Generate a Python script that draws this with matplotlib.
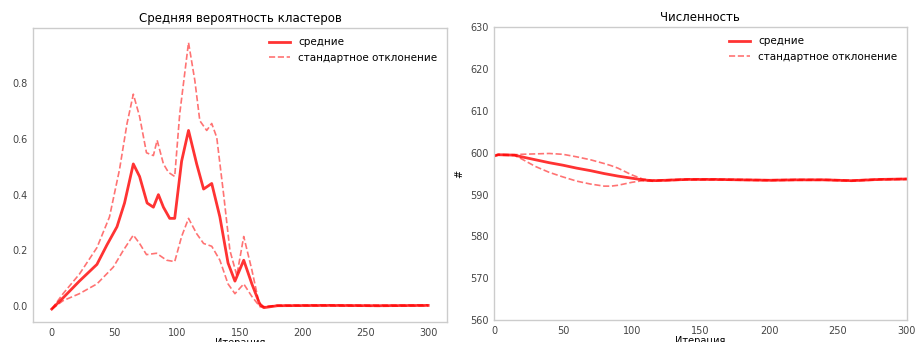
import matplotlib.pyplot as plt

plt.rcParams["font.family"] = ["DejaVu Sans"]

# --- Средняя вероятность кластеров ---
it_mean = [0, 9, 22, 36, 44, 52, 58, 65, 70, 76, 81, 85, 89, 94, 98, 103.5, 109,
           115.5, 121, 127.5, 134, 140.5, 146, 153, 159.5, 166, 169, 180, 220, 260, 300]
prob_mean = [-0.01, 0.03, 0.09, 0.15, 0.22, 0.285, 0.37, 0.51, 0.465, 0.37, 0.355,
             0.40, 0.355, 0.315, 0.315, 0.52, 0.63, 0.51, 0.42, 0.44, 0.32, 0.155,
             0.09, 0.165, 0.08, 0.005, -0.005, 0.002, 0.003, 0.002, 0.003]

it_upper = [0, 9, 22, 36, 46, 54, 60, 65, 70, 75.5, 81, 84, 89, 93, 98, 102, 109, 114,
            118, 123.5, 127.5, 131.5, 137, 142, 147.5, 153, 159.5, 165, 169, 180, 220,
            260, 300]
prob_upper = [-0.01, 0.045, 0.115, 0.21, 0.32, 0.49, 0.655, 0.76, 0.68, 0.55, 0.54,
              0.595, 0.51, 0.48, 0.465, 0.69, 0.945, 0.81, 0.665, 0.63, 0.655, 0.605,
              0.40, 0.20, 0.11, 0.25, 0.13, 0.015, -0.002, 0.004, 0.005, 0.004, 0.005]

it_lower = [0, 9, 22, 36, 49, 57, 65, 70, 75.5, 83.5, 91.5, 98, 103.5, 109, 115.5,
            121, 127.5, 134, 140.5, 146, 153, 159.5, 166, 180, 220, 260, 300]
prob_lower = [-0.01, 0.02, 0.045, 0.08, 0.14, 0.20, 0.255, 0.225, 0.185, 0.19, 0.165,
              0.16, 0.25, 0.315, 0.26, 0.225, 0.215, 0.165, 0.08, 0.045, 0.08, 0.035,
              -0.002, 0.001, 0.001, 0.0, 0.001]

# --- Численность ---
it_count = [0, 3, 15, 20, 30, 40, 50, 60, 70, 80, 85, 90, 100, 108, 115, 125, 140,
            160, 180, 200, 220, 240, 260, 280, 300]
count_mean = [599.2, 599.5, 599.4, 599.0, 598.3, 597.6, 597.0, 596.3, 595.7, 595.0,
              594.7, 594.4, 593.9, 593.5, 593.3, 593.4, 593.6, 593.6, 593.5, 593.4,
              593.5, 593.5, 593.3, 593.6, 593.7]
count_upper = [599.2, 599.6, 599.5, 599.6, 599.7, 599.8, 599.6, 599.0, 598.3, 597.4,
               596.9, 596.3, 594.7, 593.7, 593.4, 593.5, 593.7, 593.7, 593.6, 593.5,
               593.6, 593.6, 593.4, 593.7, 593.8]
count_lower = [599.2, 599.4, 599.3, 598.5, 596.7, 595.3, 594.2, 593.2, 592.5, 592.0,
               592.0, 592.2, 592.9, 593.3, 593.2, 593.3, 593.5, 593.5, 593.4, 593.3,
               593.4, 593.4, 593.2, 593.5, 593.6]

legend_labels = ["средние", "стандартное отклонение"]

fig = plt.figure(figsize=(9.15, 3.42), dpi=100)
ax1 = fig.add_axes([0.036, 0.058, 0.4525, 0.860])
ax2 = fig.add_axes([0.540, 0.064, 0.451, 0.857])


def style_axes(ax):
    for sp in ax.spines.values():
        sp.set_color("#cccccc")
        sp.set_linewidth(1.0)
    ax.tick_params(length=0, labelsize=7, colors="#444444", pad=4)


# левый график
ax1.plot(it_mean, prob_mean, color="red", alpha=0.8, linewidth=2, label=legend_labels[0])
ax1.plot(it_upper, prob_upper, color="red", alpha=0.55, linewidth=1.2, linestyle="--",
         label=legend_labels[1])
ax1.plot(it_lower, prob_lower, color="red", alpha=0.55, linewidth=1.2, linestyle="--")
ax1.set_xlim(-15, 315)
ax1.set_ylim(-0.057, 0.997)
ax1.set_xticks([0, 50, 100, 150, 200, 250, 300])
ax1.set_yticks([0.0, 0.2, 0.4, 0.6, 0.8])
ax1.set_title("Средняя вероятность кластеров", fontsize=8.5, pad=4)
ax1.set_xlabel("Итерация", fontsize=7, labelpad=0)
ax1.legend(loc="upper right", frameon=False, fontsize=7.5)
style_axes(ax1)

# правый график
ax2.plot(it_count, count_mean, color="red", alpha=0.8, linewidth=2, label=legend_labels[0])
ax2.plot(it_count, count_upper, color="red", alpha=0.55, linewidth=1.2, linestyle="--",
         label=legend_labels[1])
ax2.plot(it_count, count_lower, color="red", alpha=0.55, linewidth=1.2, linestyle="--")
ax2.set_xlim(0, 300)
ax2.set_ylim(560, 630)
ax2.set_xticks([0, 50, 100, 150, 200, 250, 300])
ax2.set_yticks([560, 570, 580, 590, 600, 610, 620, 630])
ax2.set_title("Численность", fontsize=8.5, pad=4)
ax2.set_xlabel("Итерация", fontsize=7, labelpad=0)
ax2.set_ylabel("#", fontsize=7)
ax2.legend(loc="upper right", frameon=False, fontsize=7.5)
style_axes(ax2)

plt.savefig("out.png", dpi=100)
